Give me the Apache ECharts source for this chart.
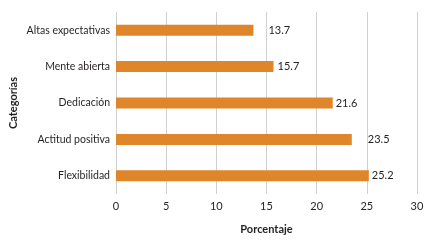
<!DOCTYPE html>
<html>
<head>
<meta charset="utf-8">
<script src="https://cdn.jsdelivr.net/npm/echarts@6/dist/echarts.min.js"></script>
<style>
  html, body { margin: 0; padding: 0; background: #fff; }
  #chart { width: 433px; height: 245px; }
</style>
</head>
<body>
<div id="chart"></div>
<script>
// datos (de abajo hacia arriba)
var categorias = ['Flexibilidad', 'Actitud positiva', 'Dedicación', 'Mente abierta', 'Altas expectativas'];
var valores = [25.2, 23.5, 21.6, 15.7, 13.7];
// separación de cada etiqueta respecto al final de la barra
var labelGaps = [3, 16, 3, 4, 15];

var myChart = echarts.init(document.getElementById('chart'));

var fuente = 'Lato, "Open Sans", sans-serif';

myChart.setOption({
    animation: false,
    grid: {
        left: 116,
        right: 16,
        top: 12,
        height: 182,
        outerBoundsMode: 'none'
    },
    xAxis: {
        type: 'value',
        min: 0,
        max: 30,
        interval: 5,
        name: 'Porcentaje',
        nameLocation: 'middle',
        nameGap: 30,
        nameMoveOverlap: false,
        nameTextStyle: { color: '#231f20', fontSize: 11, fontWeight: 'bold', fontFamily: fuente },
        axisLine: { show: false },
        axisTick: { show: false },
        axisLabel: { color: '#231f20', fontSize: 11, fontFamily: fuente, margin: 7 },
        splitLine: { show: true, lineStyle: { color: '#d0d0d0', width: 1 } }
    },
    yAxis: {
        type: 'category',
        data: categorias,
        name: 'Categorías',
        nameLocation: 'middle',
        nameGap: 97,
        nameRotate: 90,
        nameMoveOverlap: false,
        nameTextStyle: { color: '#231f20', fontSize: 11, fontWeight: 'bold', fontFamily: fuente },
        axisLine: { show: false },
        axisTick: { show: false },
        axisLabel: { color: '#231f20', fontSize: 10.5, fontFamily: fuente, margin: 6 }
    },
    series: [
        {
            type: 'bar',
            data: valores.map(function (v, i) {
                return { value: v, label: { distance: labelGaps[i] } };
            }),
            barWidth: 11,
            itemStyle: { color: '#e0862a' },
            label: {
                show: true,
                position: 'right',
                color: '#231f20',
                fontSize: 11,
                fontFamily: fuente
            }
        }
    ]
});
</script>
</body>
</html>
